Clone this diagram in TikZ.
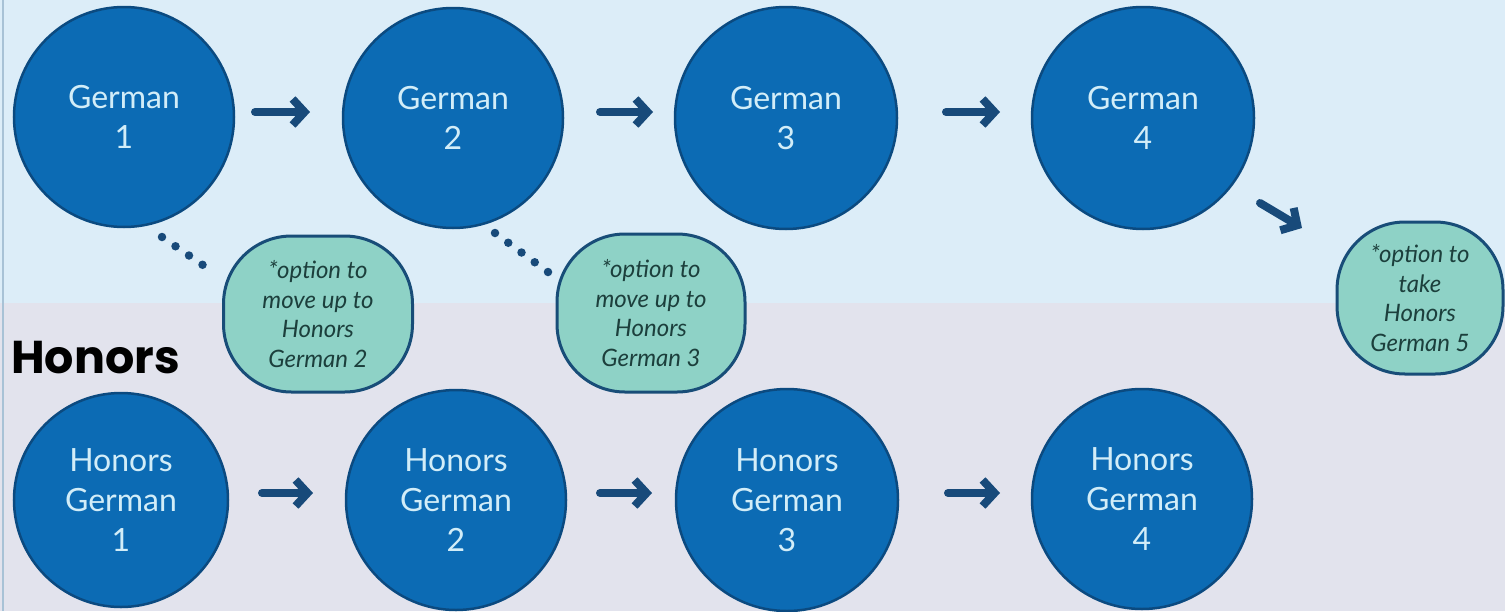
\documentclass[tikz,border=0pt]{standalone}
\usepackage{fontspec}
\setmainfont{Lato}
\newfontfamily\headfont{Poppins}
\usetikzlibrary{arrows.meta}
\definecolor{topbg}{HTML}{DCEDF8}
\definecolor{botbg}{HTML}{E2E3ED}
\definecolor{circfill}{HTML}{0C6BB4}
\definecolor{circedge}{HTML}{0B4A80}
\definecolor{circtext}{HTML}{D2EDF8}
\definecolor{arrcol}{HTML}{184A7A}
\definecolor{optfill}{HTML}{8ED2C6}
\definecolor{optedge}{HTML}{184D78}
\definecolor{opttext}{HTML}{1C3F3C}
\definecolor{edgeline}{HTML}{A8C2D6}
\begin{document}
\begin{tikzpicture}[x=1pt,y=-1pt,
  course/.style={circle,fill=circfill,draw=circedge,line width=2.5pt,minimum size=#1,inner sep=0pt,text=circtext,align=center,font=\fontsize{32}{40}\selectfont},
  course/.default=222pt,
  optbox/.style={rectangle,rounded corners=68pt,fill=optfill,draw=optedge,line width=3pt,inner sep=0pt,align=center,text=opttext,font=\itshape\fontsize{24}{29.5}\selectfont},
  arr/.style={draw=arrcol,line width=8pt,line cap=round,-{Straight Barb[length=12pt,width=26pt]}},
  dots/.style={draw=arrcol,line width=8.5pt,line cap=round}]
\useasboundingbox (0,0) rectangle (1505,611);
\fill[topbg] (0,0) rectangle (1505,303);
\fill[botbg] (0,303) rectangle (1505,611);
\draw[edgeline,line width=2pt] (3,0) -- (3,611);

\node[course=220pt] (g1) at (124,117) {German\\1};
\node[course=220pt] (g2) at (453,118) {German\\2};
\node[course] (g3) at (786,118) {German\\3};
\node[course] (g4) at (1143,118) {German\\4};

\node[course=214pt] (h1) at (121,500) {Honors\\German\\1};
\node[course=220pt] (h2) at (456,500) {Honors\\German\\2};
\node[course] (h3) at (787,500) {Honors\\German\\3};
\node[course=220pt] (h4) at (1142,499) {Honors\\German\\4};

\node[optbox,minimum width=189pt,minimum height=156pt] (o1) at (318,314) {*option to\\move up to\\Honors\\German 2};
\node[optbox,minimum width=188pt,minimum height=158pt] (o2) at (651,313) {*option to\\move up to\\Honors\\German 3};
\node[optbox,minimum width=166pt,minimum height=152pt] (o3) at (1420,298) {*option to\\take\\Honors\\German 5};

\node[anchor=west,inner sep=0pt,font=\headfont\bfseries\fontsize{46}{46}\selectfont] (hlabel) at (11,358) {Honors};

\draw[arr] ([shift={(131,-5)}]g1.center) -- ([shift={(-143,-6)}]g2.center);
\draw[arr] ([shift={(147,-6)}]g2.center) -- ([shift={(-133,-6)}]g3.center);
\draw[arr] ([shift={(160,-6)}]g3.center) -- ([shift={(-143,-6)}]g4.center);

\draw[arr] ([shift={(141,-7)}]h1.center) -- ([shift={(-143,-7)}]h2.center);
\draw[arr] ([shift={(144,-7)}]h2.center) -- ([shift={(-135,-7)}]h3.center);
\draw[arr] ([shift={(161,-7)}]h3.center) -- ([shift={(-142,-6)}]h4.center);

\draw[arr] ([shift={(117,85)}]g4.center) -- ([shift={(-118,-70)}]o3.center);

\draw[dots,dash pattern=on 0pt off 16.37pt] ([shift={(38,120)}]g1.center) -- ([shift={(-102,-40)}]o1.center);
\draw[dots,dash pattern=on 0pt off 16.45pt] ([shift={(42,115)}]g2.center) -- ([shift={(-103,-41)}]o2.center);
\end{tikzpicture}
\end{document}
